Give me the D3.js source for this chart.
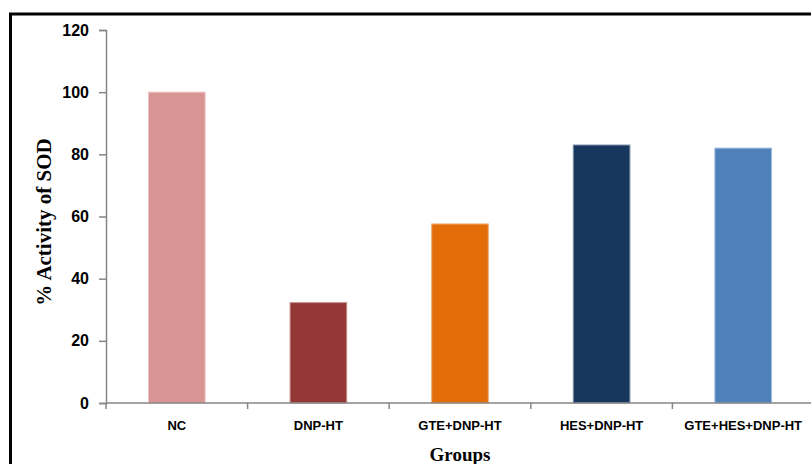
<!DOCTYPE html>
<html>
<head>
<meta charset="utf-8">
<script src="https://cdn.jsdelivr.net/npm/d3@7"></script>
<style>
  html, body { margin: 0; padding: 0; background: #fff; }
  svg { display: block; }
</style>
</head>
<body>
<script>
// SOD activity per treatment group
const groups = ["NC", "DNP-HT", "GTE+DNP-HT", "HES+DNP-HT", "GTE+HES+DNP-HT"];
const sodActivity = [100, 32.3, 57.6, 83, 82];
const barColors = ["#d99594", "#953735", "#e36c09", "#17375e", "#4f81bd"];
const yTicks = [0, 20, 40, 60, 80, 100, 120];

const W = 811, H = 464;
const margin = { left: 106, right: -3, top: 30, bottom: 61 };

const svg = d3.select("body").append("svg")
  .attr("width", W).attr("height", H);

// outer frame
svg.append("rect")
  .attr("x", 10.5).attr("y", 14)
  .attr("width", 820).attr("height", 470)
  .attr("fill", "none").attr("stroke", "#000").attr("stroke-width", 3);

const x = d3.scaleBand()
  .domain(groups)
  .range([margin.left, W - margin.right])
  .paddingInner(0.6).paddingOuter(0.3);

const y = d3.scaleLinear()
  .domain([0, 120])
  .range([H - margin.bottom, margin.top]);

// bars
svg.append("g").selectAll("rect")
  .data(groups)
  .join("rect")
  .attr("x", d => x(d))
  .attr("y", (d, i) => y(sodActivity[i]))
  .attr("width", x.bandwidth())
  .attr("height", (d, i) => y(0) - y(sodActivity[i]))
  .attr("fill", (d, i) => barColors[i])
  .attr("stroke", (d, i) => d3.interpolateRgb(barColors[i], "#fff")(0.45))
  .attr("stroke-width", 1);

// y axis
const yAxis = svg.append("g")
  .attr("transform", `translate(${margin.left},0)`)
  .call(d3.axisLeft(y).tickValues(yTicks).tickSize(7).tickPadding(10));
yAxis.selectAll("path, line").attr("stroke", "#868686").attr("stroke-width", 1.5);
yAxis.selectAll("text")
  .attr("fill", "#000")
  .style("font-family", "'Liberation Sans', Arial, sans-serif")
  .style("font-weight", "bold")
  .style("font-size", "16px");

// x axis, tick marks on the category boundaries
const step = x.step();
const xAxisG = svg.append("g").attr("transform", `translate(0,${y(0)})`);
xAxisG.append("line")
  .attr("x1", margin.left).attr("x2", W)
  .attr("stroke", "#868686").attr("stroke-width", 1.5);
xAxisG.selectAll("line.tick")
  .data(groups)
  .join("line")
  .attr("class", "tick")
  .attr("x1", d => x(d) + x.bandwidth() / 2 - step / 2)
  .attr("x2", d => x(d) + x.bandwidth() / 2 - step / 2)
  .attr("y1", 0).attr("y2", 6)
  .attr("stroke", "#868686").attr("stroke-width", 1.5);
xAxisG.selectAll("text")
  .data(groups)
  .join("text")
  .attr("x", d => x(d) + x.bandwidth() / 2)
  .attr("y", 27)
  .attr("text-anchor", "middle")
  .style("font-family", "'Liberation Sans', Arial, sans-serif")
  .style("font-weight", "bold")
  .style("font-size", "13px")
  .text(d => d);

// axis titles
svg.append("text")
  .attr("x", 460).attr("y", 461)
  .attr("text-anchor", "middle")
  .style("font-family", "'Liberation Serif', 'Times New Roman', serif")
  .style("font-weight", "bold")
  .style("font-size", "19px")
  .text("Groups");

svg.append("text")
  .attr("transform", "translate(51,222) rotate(-90)")
  .attr("text-anchor", "middle")
  .style("font-family", "'Liberation Serif', 'Times New Roman', serif")
  .style("font-weight", "bold")
  .style("font-size", "21px")
  .text("% Activity of SOD");
</script>
</body>
</html>
